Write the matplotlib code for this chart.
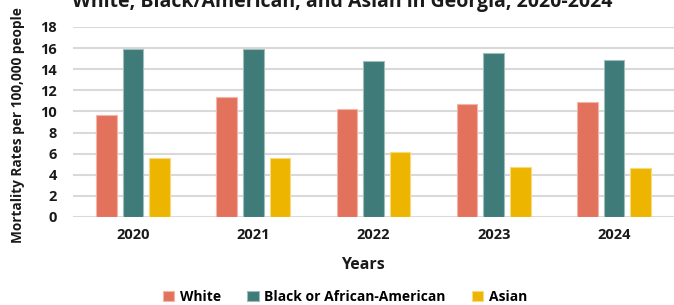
import matplotlib.pyplot as plt
import numpy as np

# ------------------------ DATA ------------------------
years = ["2020", "2021", "2022", "2023", "2024"]
white = [9.7, 11.35, 10.27, 10.68, 10.87]
black = [15.95, 15.95, 14.8, 15.55, 14.88]
asian = [5.63, 5.6, 6.2, 4.71, 4.65]
series_names = ["White", "Black or African-American", "Asian"]
colors = ["#E3725D", "#3E7B79", "#EDB500"]
edges = ["#F2B5A9", "#9FBDBB", "#F7DA80"]

plt.rcParams["font.family"] = ["Open Sans", "DejaVu Sans"]
plt.rcParams["font.weight"] = "bold"

fig = plt.figure(figsize=(6.74, 3.05), dpi=100)
ax = fig.add_axes([73 / 674, 1 - 217 / 305, 601 / 674, 190 / 305])

x = np.arange(len(years))
step = 0.221
width = 0.172
for i, (vals, name) in enumerate(zip([white, black, asian], series_names)):
    ax.bar(x + (i - 1) * step, vals, width, color=colors[i], edgecolor=edges[i],
           linewidth=0.8, label=name, zorder=3)

ax.set_xlim(-0.5, len(years) - 0.5)
ax.set_ylim(0, 18)
ax.set_yticks(range(0, 19, 2))
ax.set_xticks(x)
ax.set_xticklabels(years)
ax.tick_params(axis="both", length=0, labelsize=10.5, colors="#1A1A1A")
ax.tick_params(axis="x", pad=8)
ax.tick_params(axis="y", pad=11.5)
for lbl in ax.get_xticklabels() + ax.get_yticklabels():
    lbl.set_fontweight("bold")
ax.grid(axis="y", color="#D9D9D9", linewidth=1.5, zorder=0)
for s in ax.spines.values():
    s.set_visible(False)

fig.text(18 / 674, 1 - 125 / 305, "Mortality Rates per 100,000 people", rotation=90,
         ha="center", va="center", fontsize=9.8, fontweight="bold", color="#1A1A1A")
fig.text(363 / 674, 1 - 265 / 305, "Years", ha="center", va="center",
         fontsize=11.5, fontweight="bold", color="#1A1A1A")
fig.text(342 / 674, 1 - 7 / 305, "White, Black/American, and Asian in Georgia, 2020-2024",
         ha="center", va="baseline", fontsize=14, fontweight="bold", color="#1A1A1A")

fig.legend(loc="center", bbox_to_anchor=(345 / 674, 1 - 297 / 305), ncol=3, frameon=False,
           fontsize=10, handlelength=0.8, handleheight=0.8, columnspacing=1.9,
           handletextpad=0.4)

fig.savefig("out.png", dpi=100)
